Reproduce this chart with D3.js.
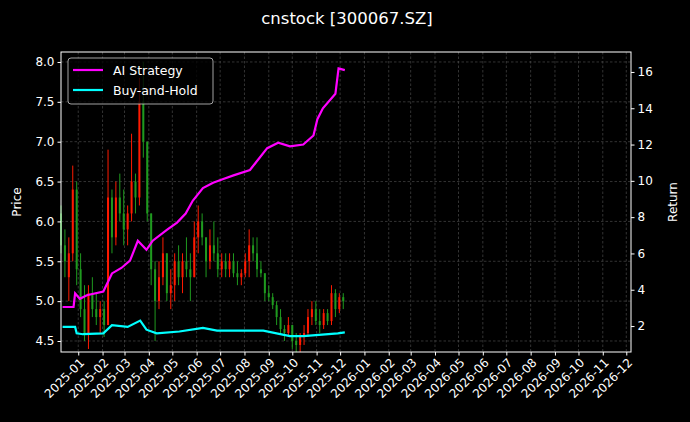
<!DOCTYPE html>
<html><head><meta charset="utf-8">
<script src="https://cdn.jsdelivr.net/npm/d3@7"></script>
<style>body{margin:0;background:#000}svg{display:block;font-family:"DejaVu Sans",sans-serif}</style>
</head><body><svg id="c" width="690" height="422"></svg>
<script>
const candleDates=["2024-12-10","2024-12-15","2024-12-20","2024-12-25","2024-12-30","2025-01-04","2025-01-09","2025-01-14","2025-01-19","2025-01-24","2025-01-29","2025-02-03","2025-02-08","2025-02-13","2025-02-18","2025-02-23","2025-02-28","2025-03-05","2025-03-10","2025-03-15","2025-03-20","2025-03-25","2025-03-30","2025-04-04","2025-04-09","2025-04-14","2025-04-19","2025-04-24","2025-04-29","2025-05-04","2025-05-09","2025-05-14","2025-05-19","2025-05-24","2025-05-29","2025-06-03","2025-06-08","2025-06-13","2025-06-18","2025-06-23","2025-06-28","2025-07-03","2025-07-08","2025-07-13","2025-07-18","2025-07-23","2025-07-28","2025-08-02","2025-08-07","2025-08-12","2025-08-17","2025-08-22","2025-08-27","2025-09-01","2025-09-06","2025-09-11","2025-09-16","2025-09-21","2025-09-26","2025-10-01","2025-10-06","2025-10-11","2025-10-16","2025-10-21","2025-10-26","2025-10-31","2025-11-05","2025-11-10","2025-11-15","2025-11-20","2025-11-25","2025-11-30","2025-12-05"];
// [open, high, low, close]
const candleOHLC=[[6.1,6.2,5.6,5.7],[5.7,5.9,5.3,5.5],[5.3,5.8,5.0,5.6],[5.6,6.7,5.5,6.4],[6.4,6.5,5.2,5.4],[5.4,5.6,4.8,4.9],[4.9,5.2,4.5,4.6],[4.6,5.2,4.4,5.1],[5.1,5.3,4.8,4.9],[4.9,5.1,4.7,4.8],[4.8,5.0,4.6,4.9],[4.9,5.0,4.55,4.7],[4.7,6.9,4.7,6.3],[6.3,6.4,5.6,5.8],[5.8,6.5,5.7,6.3],[6.3,6.6,6.0,6.1],[6.1,6.4,5.7,5.9],[5.9,6.2,5.7,6.1],[6.1,7.1,6.0,6.5],[6.5,6.6,6.1,6.3],[6.3,7.8,6.2,7.5],[7.5,8.0,6.8,7.0],[7.0,7.0,6.0,6.1],[6.1,6.1,5.2,5.4],[5.4,5.5,4.5,5.0],[5.0,5.5,4.9,5.3],[5.3,5.8,5.2,5.6],[5.6,5.6,5.0,5.1],[5.1,5.4,4.9,5.2],[5.2,5.6,5.0,5.5],[5.5,5.7,5.2,5.3],[5.3,5.6,5.1,5.5],[5.5,5.8,5.3,5.4],[5.4,5.6,5.0,5.3],[5.3,6.0,5.3,5.8],[5.8,6.2,5.6,6.0],[6.0,6.1,5.7,5.8],[5.8,5.8,5.3,5.5],[5.5,5.9,5.4,5.7],[5.7,6.0,5.5,5.6],[5.6,5.8,5.3,5.4],[5.4,5.6,5.3,5.5],[5.5,5.6,5.3,5.4],[5.4,5.6,5.3,5.5],[5.5,5.6,5.3,5.35],[5.35,5.5,5.2,5.3],[5.3,5.4,5.2,5.35],[5.35,5.6,5.3,5.5],[5.5,5.9,5.3,5.7],[5.7,5.8,5.5,5.6],[5.6,5.8,5.3,5.4],[5.4,5.5,5.3,5.35],[5.35,5.35,5.0,5.1],[5.1,5.2,5.0,5.05],[5.05,5.1,4.9,4.95],[4.95,5.0,4.7,4.8],[4.8,4.9,4.6,4.65],[4.65,4.7,4.5,4.6],[4.6,4.8,4.55,4.7],[4.7,4.7,4.4,4.5],[4.5,4.6,4.36,4.45],[4.45,4.6,4.36,4.55],[4.55,4.7,4.45,4.6],[4.6,4.9,4.55,4.8],[4.8,5.0,4.7,4.9],[4.9,5.0,4.7,4.75],[4.75,4.9,4.6,4.7],[4.7,4.9,4.65,4.85],[4.85,4.9,4.7,4.75],[4.75,5.2,4.7,5.1],[5.1,5.15,4.8,4.9],[4.9,5.1,4.85,5.05],[5.05,5.1,4.9,5.0]];
const stratDates=["2024-12-12","2024-12-26","2024-12-28","2025-01-03","2025-01-12","2025-02-02","2025-02-13","2025-02-25","2025-03-08","2025-03-18","2025-03-29","2025-04-06","2025-04-24","2025-05-07","2025-05-18","2025-05-27","2025-06-09","2025-06-22","2025-07-05","2025-07-18","2025-08-08","2025-08-30","2025-09-13","2025-09-28","2025-10-15","2025-10-28","2025-11-02","2025-11-09","2025-11-25","2025-11-29","2025-12-07"];
const stratVals=[3.05,3.05,3.8,3.5,3.7,3.9,4.9,5.2,5.6,6.7,6.2,6.7,7.3,7.7,8.2,8.9,9.6,9.9,10.1,10.3,10.6,11.8,12.1,11.9,12.0,12.5,13.4,14.0,14.8,16.2,16.1];
const bhDates=["2024-12-12","2024-12-28","2024-12-30","2025-01-07","2025-02-02","2025-02-13","2025-03-05","2025-03-21","2025-03-29","2025-04-11","2025-05-10","2025-06-09","2025-06-27","2025-08-25","2025-09-28","2025-10-15","2025-11-28","2025-12-07"];
const bhVals=[1.95,1.95,1.6,1.55,1.6,2.05,1.95,2.3,1.8,1.6,1.7,1.9,1.75,1.75,1.45,1.45,1.6,1.65];
const priceTicks=[4.5,5.0,5.5,6.0,6.5,7.0,7.5,8.0];
const retTicks=[2,4,6,8,10,12,14,16];

const P=d3.timeParse("%Y-%m-%d");
const svg=d3.select("#c");
const L=61,R=631,T=52,B=352;
const x=d3.scaleTime().domain([P("2024-12-10"),P("2026-12-07")]).range([L,R]);
const y=d3.scaleLinear().domain([4.362,8.125]).range([B,T]);
const y2=d3.scaleLinear().domain([0.57,17.1]).range([B,T]);
svg.append("rect").attr("width",690).attr("height",422).attr("fill","#000");
svg.append("text").attr("x",347).attr("y",24).attr("text-anchor","middle").attr("fill","#fff").attr("font-size",16.5).text("cnstock [300067.SZ]");
const months=d3.timeMonth.range(P("2025-01-01"),P("2026-12-02"));
const g=svg.append("g");
g.selectAll(".gx").data(months).join("line").attr("x1",d=>x(d)).attr("x2",d=>x(d)).attr("y1",T).attr("y2",B).attr("stroke","#555").attr("stroke-width",0.6).attr("stroke-dasharray","2.5,2");
g.selectAll(".gy").data(priceTicks).join("line").attr("x1",L).attr("x2",R).attr("y1",d=>y(d)).attr("y2",d=>y(d)).attr("stroke","#555").attr("stroke-width",0.6).attr("stroke-dasharray","2.5,2");
const cd=candleDates.map((d,i)=>({d:P(d),o:candleOHLC[i][0],h:candleOHLC[i][1],l:candleOHLC[i][2],c:candleOHLC[i][3]}));
const col=d=>d.c>=d.o?"#ff1a00":"#1f9a1f";
g.selectAll(".w").data(cd).join("line").attr("x1",d=>x(d.d)).attr("x2",d=>x(d.d)).attr("y1",d=>y(d.h)).attr("y2",d=>y(d.l)).attr("stroke",col).attr("stroke-width",1);
g.selectAll(".b").data(cd).join("rect").attr("x",d=>x(d.d)-1).attr("width",2).attr("y",d=>y(Math.max(d.o,d.c))).attr("height",d=>Math.max(1,Math.abs(y(d.o)-y(d.c)))).attr("fill",col);
const ln=d3.line().x(d=>x(d[0])).y(d=>y2(d[1]));
g.append("path").datum(stratDates.map((d,i)=>[P(d),stratVals[i]])).attr("d",ln).attr("fill","none").attr("stroke","#ff00ff").attr("stroke-width",2.2);
g.append("path").datum(bhDates.map((d,i)=>[P(d),bhVals[i]])).attr("d",ln).attr("fill","none").attr("stroke","#00ffff").attr("stroke-width",2.2);
svg.append("rect").attr("x",L).attr("y",T).attr("width",R-L).attr("height",B-T).attr("fill","none").attr("stroke","#fff").attr("stroke-width",1);
const ax=svg.append("g").attr("transform",`translate(0,${B})`).call(d3.axisBottom(x).tickValues(months).tickFormat(d3.timeFormat("%Y-%m")).tickSizeOuter(0).tickSize(3.5));
ax.selectAll("text").attr("text-anchor","end").attr("transform","rotate(-45)").attr("dx","-0.3em").attr("dy","0.5em");
const ay=svg.append("g").attr("transform",`translate(${L},0)`).call(d3.axisLeft(y).tickValues(priceTicks).tickFormat(d3.format(".1f")).tickSizeOuter(0).tickSize(3.5));
const ay2=svg.append("g").attr("transform",`translate(${R},0)`).call(d3.axisRight(y2).tickValues(retTicks).tickSizeOuter(0).tickSize(3.5));
[ax,ay,ay2].forEach(a=>{a.select(".domain").remove();a.selectAll("line").attr("stroke","#fff");a.selectAll("text").attr("fill","#fff").attr("font-size",12).attr("font-family","DejaVu Sans");});
svg.append("text").attr("transform","translate(21,202) rotate(-90)").attr("text-anchor","middle").attr("fill","#fff").attr("font-size",12).text("Price");
svg.append("text").attr("transform","translate(677,202) rotate(-90)").attr("text-anchor","middle").attr("fill","#fff").attr("font-size",12).text("Return");
const lg=svg.append("g");
lg.append("rect").attr("x",68).attr("y",58).attr("width",145).attr("height",46).attr("rx",3).attr("fill","#000").attr("fill-opacity",0.8).attr("stroke","#ccc").attr("stroke-width",0.8);
[["AI Strategy","#ff00ff"],["Buy-and-Hold","#00ffff"]].forEach((e,i)=>{
 lg.append("line").attr("x1",73).attr("x2",103).attr("y1",70+i*20).attr("y2",70+i*20).attr("stroke",e[1]).attr("stroke-width",2.2);
 lg.append("text").attr("x",113).attr("y",74.5+i*20).attr("fill","#fff").attr("font-size",12.5).text(e[0]);
});
</script></body></html>
